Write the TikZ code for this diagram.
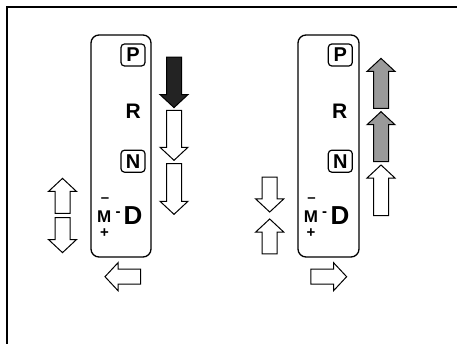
\documentclass[tikz,border=0pt]{standalone}
\usepackage{fontspec}
\setmainfont{Liberation Sans}
\usetikzlibrary{shapes.arrows}
\definecolor{arrowgray}{HTML}{9A9A9A}
\definecolor{arrowblack}{HTML}{232323}
\tikzset{
  blockarrow/.style={single arrow, draw, line width=1pt, inner sep=7pt, anchor=tip,
    single arrow head extend=6.5pt, single arrow tip angle=94, fill=white},
  gatebox/.style={draw, line width=1.3pt, rounded corners=8pt},
  posbox/.style={draw, line width=1.2pt, rounded corners=3.5pt, minimum width=24pt,
    minimum height=22pt, inner sep=0pt, font=\fontsize{20}{20}\selectfont\bfseries},
  poslbl/.style={inner sep=0pt, font=\fontsize{21}{21}\selectfont\bfseries},
  drvlbl/.style={inner sep=0pt, font=\fontsize{26}{26}\selectfont\bfseries},
  manlbl/.style={inner sep=0pt, font=\fontsize{17}{17}\selectfont\bfseries},
  sgnlbl/.style={inner sep=0pt, font=\fontsize{15}{15}\selectfont\bfseries},
}
\begin{document}
\begin{tikzpicture}[x=1pt,y=-1pt]
  \useasboundingbox (0,0) rectangle (457,344);
  % outer frame
  \path[draw,line width=2pt] (7,344) -- (7,7) -- (457,7);

  % left gate
  \path[gatebox] (91,35) rectangle (151,257);
  \node[posbox] (p1) at (133,55) {P};
  \node[poslbl] (r1) at (133.3,111) {R};
  \node[posbox] (n1) at (133,161.2) {N};
  \node[drvlbl] (d1) at (133,215.5) {D};
  \node[manlbl] (m1) at (104.3,217) {M};
  \node[sgnlbl] (h1) at (118,214.5) {-};
  \node[sgnlbl] (mi1) at (105,200) {--};
  \node[sgnlbl] (pl1) at (104.5,233) {+};

  \node[blockarrow,minimum height=50.6pt,shape border rotate=270,fill=arrowblack] (a1) at (174,108.3) {};
  \node[blockarrow,minimum height=50pt,shape border rotate=270] (a2) at (174,161) {};
  \node[blockarrow,minimum height=50.7pt,shape border rotate=270] (a3) at (174,215) {};
  \node[blockarrow,minimum height=35pt,shape border rotate=90] (a4) at (62.5,177.7) {};
  \node[blockarrow,minimum height=35pt,shape border rotate=270] (a5) at (62.5,253.3) {};
  \node[blockarrow,minimum height=35.7pt,shape border rotate=180] (a6) at (104.3,276.7) {};

  % right gate
  \path[gatebox] (298,35) rectangle (359,257);
  \node[posbox] (p2) at (340.3,55) {P};
  \node[poslbl] (r2) at (339.8,111) {R};
  \node[posbox] (n2) at (340.3,161.2) {N};
  \node[drvlbl] (d2) at (340,215.5) {D};
  \node[manlbl] (m2) at (311,217) {M};
  \node[sgnlbl] (h2) at (324.5,214.5) {-};
  \node[sgnlbl] (mi2) at (311.5,200) {--};
  \node[sgnlbl] (pl2) at (311,233) {+};

  \node[blockarrow,minimum height=50pt,shape border rotate=90,fill=arrowgray] (b1) at (381,57.7) {};
  \node[blockarrow,minimum height=50pt,shape border rotate=90,fill=arrowgray] (b2) at (381,111) {};
  \node[blockarrow,minimum height=50.7pt,shape border rotate=90] (b3) at (381,164.3) {};
  \node[blockarrow,minimum height=35pt,shape border rotate=270] (b4) at (269.7,212.7) {};
  \node[blockarrow,minimum height=35pt,shape border rotate=90] (b5) at (269.7,218.3) {};
  \node[blockarrow,minimum height=35.7pt,shape border rotate=0] (b6) at (347.3,276.7) {};
\end{tikzpicture}
\end{document}
